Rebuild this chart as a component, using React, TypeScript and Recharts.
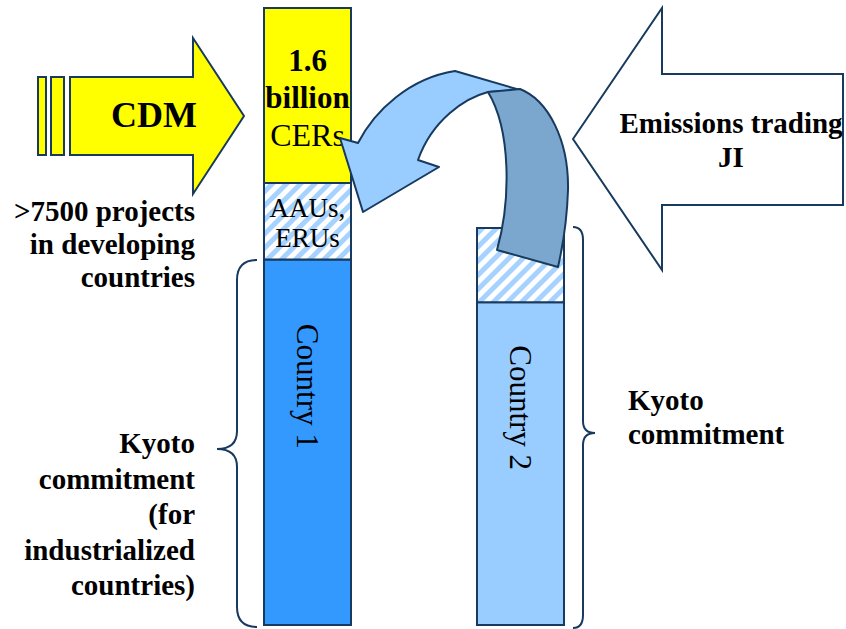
import * as Recharts from "recharts";
import { BarChart, Bar, XAxis, YAxis, LabelList, Cell, Customized } from "recharts";

// emissions budget per country, billion t CO2e
const countries = ["Country 1", "Country 2"];
const commitment = [3.34, 2.95];
const aausErus = [0.7, 0.68];
const cers = [1.6, 0];
const creditNotes = [["AAUs,", "ERUs"], []];
const commitmentColors = ["#3399ff", "#99ccff"];

const cdmNotes = [">7500 projects", "in developing", "countries"];
const kyotoNotesLeft = ["Kyoto", "commitment", "(for", "industrialized", "countries)"];
const kyotoNotesRight = ["Kyoto", "commitment"];
const tradingNotes = ["Emissions trading", "JI"];

const navy = "#173a5e";
const serif = "Liberation Serif";

// newer recharts keeps series in z-index layers; lift the overlay above them
const Layer: any = (Recharts as any).ZIndexLayer;

const data = countries.map((name, i) => ({
  name,
  commitment: commitment[i],
  aausErus: aausErus[i],
  cers: cers[i] || null,
}));

function CountryLabel(props: any) {
  const { x, y, width, height, value } = props;
  const cx = x + width / 2;
  const cy = y + height / 2 - 56;
  return (
    <text
      x={cx}
      y={cy}
      transform={`rotate(90 ${cx} ${cy})`}
      textAnchor="middle"
      dominantBaseline="central"
      style={{ fontFamily: serif }}
      fontSize={31}
      fill="#000"
    >
      {value}
    </text>
  );
}

function CreditLabel(props: any) {
  const { x, y, width, index } = props;
  const lines = creditNotes[index] || [];
  if (!lines.length) return null;
  const cx = x + width / 2;
  return (
    <text textAnchor="middle" style={{ fontFamily: serif }} fontSize={27} fill="#000">
      {lines.map((l, i) => (
        <tspan key={l} x={cx} y={y + 34 + i * 30}>
          {l}
        </tspan>
      ))}
    </text>
  );
}

function CerLabel(props: any) {
  const { x, y, width, value } = props;
  if (!value) return null;
  const cx = x + width / 2;
  return (
    <text textAnchor="middle" style={{ fontFamily: serif }} fill="#000">
      <tspan x={cx} y={y + 63} fontSize={31} fontWeight="bold">
        {value}
      </tspan>
      <tspan x={cx} y={y + 100} fontSize={31} fontWeight="bold">
        billion
      </tspan>
      <tspan x={cx} y={y + 138} fontSize={32}>
        CERs
      </tspan>
    </text>
  );
}

function TextBlock({ lines, x, y, step, anchor }: any) {
  return (
    <text
      textAnchor={anchor}
      style={{ fontFamily: serif, fontWeight: 700 }}
      fontSize={29}
      fill="#000"
    >
      {lines.map((l: string, i: number) => (
        <tspan key={l} x={x} y={y + i * step}>
          {l}
        </tspan>
      ))}
    </text>
  );
}

function Decorations() {
  return (
    <g>
      {/* CDM arrow */}
      <g fill="#ffff00" stroke={navy} strokeWidth={2}>
        <rect x={38} y={77} width={8} height={78} />
        <rect x={51} y={77} width={13} height={78} />
        <polygon points="70,77 193,77 193,38 244,116 193,194 193,155 70,155" />
      </g>
      <text
        x={154}
        y={127}
        textAnchor="middle"
        style={{ fontFamily: serif, fontWeight: 700 }}
        fontSize={36}
      >
        CDM
      </text>

      {/* emissions trading / JI arrow */}
      <polygon
        points="573,139 662,8 662,74 843,74 843,205 662,205 662,270"
        fill="#fff"
        stroke={navy}
        strokeWidth={2}
      />
      <TextBlock lines={tradingNotes} x={731} y={133} step={34} anchor="middle" />

      {/* curved transfer arrow */}
      <path
        d="M340,138 L358,143 C375,110 410,78 455,71 L520,90 L488,92 C465,98 432,120 418,160 L439,167 L363,212 Z"
        fill="#99ccff"
        stroke={navy}
        strokeWidth={2}
        strokeLinejoin="round"
      />
      <path
        d="M488,92 L520,89 C548,100 569,140 568,190 C567,222 563,245 558,267 L497,250 C511,200 511,130 488,92 Z"
        fill="#7ba7ce"
        stroke={navy}
        strokeWidth={2}
        strokeLinejoin="round"
      />

      {/* braces */}
      <g fill="none" stroke={navy} strokeWidth={2}>
        <path d="M257,260 Q237,260 237,280 L237,431 Q237,449 217,449 Q237,449 237,467 L237,607 Q237,627 257,627" />
        <path d="M573,227 Q583,227 583,240 L583,421 Q583,433 595,433 Q583,433 583,445 L583,615 Q583,628 573,628" />
      </g>

      <TextBlock lines={cdmNotes} x={195} y={221} step={33} anchor="end" />
      <TextBlock lines={kyotoNotesLeft} x={195} y={453} step={35.5} anchor="end" />
      <TextBlock lines={kyotoNotesRight} x={628} y={410} step={34} anchor="start" />
    </g>
  );
}

function Overlay() {
  if (Layer) {
    return (
      <Layer zIndex={2500}>
        <Decorations />
      </Layer>
    );
  }
  return <Decorations />;
}

export default function App() {
  return (
    <div style={{ position: "absolute", left: 0, top: 0, width: 846, height: 629, background: "#fff" }}>
      <BarChart
        width={846}
        height={629}
        data={data}
        margin={{ top: 8, right: 219, bottom: 4, left: 201 }}
        barSize={87}
      >
        <defs>
          <pattern id="hatch" patternUnits="userSpaceOnUse" width="10" height="10" patternTransform="rotate(45)">
            <rect width="10" height="10" fill="#fff" />
            <rect width="5" height="10" fill="#a6d2ff" />
          </pattern>
        </defs>
        <XAxis dataKey="name" hide />
        <YAxis hide domain={[0, 5.64]} />
        <Bar dataKey="commitment" stackId="a" stroke={navy} strokeWidth={2} isAnimationActive={false}>
          {data.map((d, i) => (
            <Cell key={d.name} fill={commitmentColors[i]} />
          ))}
          <LabelList dataKey="name" content={<CountryLabel />} />
        </Bar>
        <Bar dataKey="aausErus" stackId="a" fill="url(#hatch)" stroke={navy} strokeWidth={2} isAnimationActive={false}>
          <LabelList dataKey="aausErus" content={<CreditLabel />} />
        </Bar>
        <Bar dataKey="cers" stackId="a" fill="#ffff00" stroke={navy} strokeWidth={2} isAnimationActive={false}>
          <LabelList dataKey="cers" content={<CerLabel />} />
        </Bar>
        <Customized component={Overlay} />
      </BarChart>
    </div>
  );
}
